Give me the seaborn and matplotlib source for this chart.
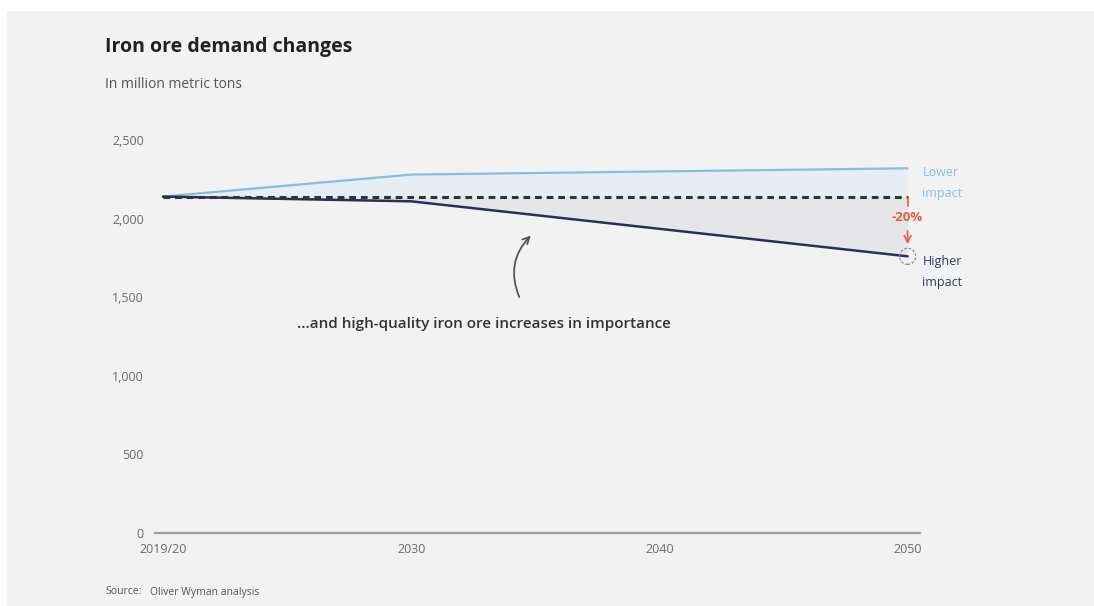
import pandas as pd
import matplotlib.pyplot as plt
import seaborn as sns
from matplotlib.patches import Rectangle, Ellipse

sns.set_theme(style="white")
plt.rcParams['font.family'] = ['Open Sans', 'DejaVu Sans']

# Data (million metric tons)
years = [2020, 2030, 2050]
lower_impact = [2140, 2280, 2320]
higher_impact = [2140, 2110, 1760]
baseline = [2140, 2140, 2140]
tick_years = [2020, 2030, 2040, 2050]
tick_labels = ["2019/20", "2030", "2040", "2050"]
y_ticks = [0, 500, 1000, 1500, 2000, 2500]

df = pd.DataFrame({'Year': years, 'Lower': lower_impact,
                   'Higher': higher_impact, 'Base': baseline})

bg = "#f2f2f2"
fig = plt.figure(figsize=(10.94, 6.06), dpi=100, facecolor="white")
fig.patches.append(Rectangle((7 / 1094, 0), 1, 1 - 11 / 606, transform=fig.transFigure,
                             facecolor=bg, edgecolor="none", zorder=-10))
ax = fig.add_axes([155 / 1094, 1 - 533 / 606, 765 / 1094, 393 / 606])
ax.set_facecolor("none")

# shaded bands
ax.fill_between(df['Year'], df['Base'], df['Lower'], color="#e6eef4", lw=0, zorder=1)
ax.fill_between(df['Year'], df['Higher'], df['Base'], color="#e6e6e8", lw=0, zorder=1)

sns.lineplot(data=df, x='Year', y='Lower', ax=ax, color="#86bde3", lw=1.6, zorder=3)
sns.lineplot(data=df, x='Year', y='Higher', ax=ax, color="#27305a", lw=1.8, zorder=3)
sns.lineplot(data=df, x='Year', y='Base', ax=ax, color="#333333", lw=2.2, zorder=4,
             linestyle=(0, (2.2, 1.6)))

ax.set_xlim(2019.68, 2050.5)
ax.set_ylim(0, 2500)
ax.set_xticks(tick_years)
ax.set_xticklabels(tick_labels)
ax.set_yticks(y_ticks)
ax.set_yticklabels([f"{v:,}" for v in y_ticks])
ax.tick_params(axis='both', length=0, labelsize=9, labelcolor="#6a6a6a")
ax.tick_params(axis='x', pad=7)
ax.tick_params(axis='y', pad=8)
ax.set_xlabel("")
ax.set_ylabel("")
for s in ['top', 'right', 'left']:
    ax.spines[s].set_visible(False)
ax.spines['bottom'].set_color("#a0a0a0")
ax.spines['bottom'].set_linewidth(1.6)

# end labels
ax.text(2050.6, 2226, "Lower\nimpact", color="#86bde3", fontsize=9, va='center',
        ha='left', linespacing=1.8)
ax.text(2050.6, 1660, "Higher\nimpact", color="#2e3a66", fontsize=9, va='center',
        ha='left', linespacing=1.8)

# -20% marker
red = "#ea5a45"
ax.plot([2050, 2050], [2140, 2080], color=red, lw=1.2, zorder=5)
ax.text(2050, 2010, "-20%", color=red, fontsize=9.5, fontweight='bold', ha='center',
        va='center', zorder=5)
ax.annotate("", xy=(2050, 1820), xytext=(2050, 1940),
            arrowprops=dict(arrowstyle="->", color=red, lw=1.2))
ax.add_patch(Ellipse((2050, 1760), 0.65, 102, fill=False,
                     ls=(0, (2, 1.5)), ec="#888888", lw=0.9, zorder=6))

# annotation
ax.text(2025.4, 1330, "...and high-quality iron ore increases in importance",
        fontsize=11, fontweight='semibold', color="#333333", va='center', ha='left')
ax.annotate("", xy=(2034.9, 1905), xytext=(2034.4, 1485),
            arrowprops=dict(arrowstyle="->", color="#555555", lw=1.3,
                            connectionstyle="arc3,rad=-0.35"))

fig.text(105 / 1094, 1 - 47 / 606, "Iron ore demand changes", fontsize=14,
         fontweight='bold', color="#222222", va='center')
fig.text(105 / 1094, 1 - 84 / 606, "In million metric tons", fontsize=10,
         color="#555555", va='center')
fig.text(105 / 1094, 1 - 592 / 606, "Source:", fontsize=7.5, color="#555555", va='center')
fig.text(150 / 1094, 1 - 592 / 606, "Oliver Wyman analysis", fontsize=7.5,
         color="#555555", va='center')

fig.savefig("out.png", dpi=100, facecolor="white")
